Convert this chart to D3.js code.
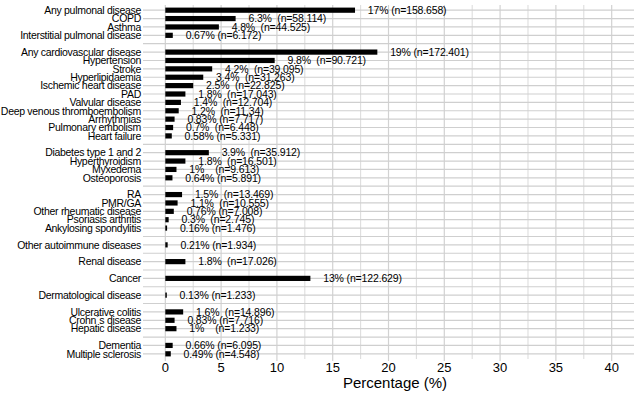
<!DOCTYPE html>
<html>
<head>
<meta charset="utf-8">
<script src="https://d3js.org/d3.v7.min.js"></script>
<style>
  body { margin: 0; background: #fff; }
  text { font-family: "Liberation Sans", Arial, sans-serif; }
</style>
</head>
<body>
<div id="vis"></div>
<script>
// rows of the chart, "" marks an empty spacer row between groups
var categories = [
  "Any pulmonal disease", "COPD", "Asthma", "Interstitial pulmonal disease", "",
  "Any cardiovascular disease", "Hypertension", "Stroke", "Hyperlipidaemia", "Ischemic heart disease",
  "PAD", "Valvular disease", "Deep venous thromboembolism", "Arrhythmias", "Pulmonary embolism", "Heart failure", "",
  "Diabetes type 1 and 2", "Hyperthyroidism", "Myxedema", "Osteoporosis", "",
  "RA", "PMR/GA", "Other rheumatic disease", "Psoriasis arthritis", "Ankylosing spondylitis", "",
  "Other autoimmune diseases", "",
  "Renal disease", "",
  "Cancer", "",
  "Dermatological disease", "",
  "Ulcerative colitis", "Crohn\u00b4s disease", "Hepatic disease", "",
  "Dementia", "Multiple sclerosis"
];
var percents = [
  17, 6.3, 4.8, 0.67, null,
  19, 9.8, 4.2, 3.4, 2.5, 1.8, 1.4, 1.2, 0.83, 0.7, 0.58, null,
  3.9, 1.8, 1, 0.64, null,
  1.5, 1.1, 0.76, 0.3, 0.16, null,
  0.21, null,
  1.8, null,
  13, null,
  0.13, null,
  1.6, 0.83, 1, null,
  0.66, 0.49
];
var counts = [
  "158.658", "58.114", "44.525", "6.172", null,
  "172.401", "90.721", "39.095", "31.263", "22.825", "17.043", "12.704", "11.34", "7.717", "6.448", "5.331", null,
  "35.912", "16.501", "9.613", "5.891", null,
  "13.469", "10.555", "7.008", "2.745", "1.476", null,
  "1.934", null,
  "17.026", null,
  "122.629", null,
  "1.233", null,
  "14.896", "7.716", "1.233", null,
  "6.095", "4.548"
];
var xTicks = [0, 5, 10, 15, 20, 25, 30, 35, 40];
var xMinor = [2.5, 7.5, 12.5, 17.5, 22.5, 27.5, 32.5, 37.5];

var width = 640, height = 395;
var m = { left: 143, right: 634, top: 6, bottom: 358 };

var svg = d3.select("#vis").append("svg")
  .attr("width", width)
  .attr("height", height);

var x = d3.scaleLinear().domain([-2, 42]).range([m.left, m.right]);
var y = d3.scaleBand()
  .domain(d3.range(categories.length))
  .range([m.top, m.bottom]);

var rows = categories.map(function(c, i) {
  return {i: i, name: c, pct: percents[i], n: counts[i]};
});
function yMid(d) { return y(d.i) + y.bandwidth() / 2; }

// vertical gridlines
svg.append("g").selectAll("line")
  .data(xMinor).enter().append("line")
  .attr("x1", function(d) { return x(d); })
  .attr("x2", function(d) { return x(d); })
  .attr("y1", m.top - 1).attr("y2", m.bottom + 1)
  .attr("stroke", "#dedede").attr("stroke-width", 1.1);
svg.append("g").selectAll("line")
  .data(xTicks).enter().append("line")
  .attr("x1", function(d) { return x(d); })
  .attr("x2", function(d) { return x(d); })
  .attr("y1", m.top - 1).attr("y2", m.bottom + 3)
  .attr("stroke", "#d2d2d2").attr("stroke-width", 1.2);

// horizontal gridlines (one per row, spacers included)
svg.append("g").selectAll("line")
  .data(rows).enter().append("line")
  .attr("x1", m.left).attr("x2", m.right)
  .attr("y1", yMid).attr("y2", yMid)
  .attr("stroke", "#cfcfcf").attr("stroke-width", 1.2);

var data = rows.filter(function(d) { return d.pct !== null; });

// bars
svg.append("g").selectAll("rect")
  .data(data).enter().append("rect")
  .attr("x", x(0))
  .attr("y", function(d) { return yMid(d) - 2.6; })
  .attr("width", function(d) { return Math.max(x(d.pct) - x(0), 1.5); })
  .attr("height", 5.2)
  .attr("fill", "#000");

// value labels
function pctLabel(p) {
  var s = p + "%";
  var gap = s.length === 3 ? 1 : 1 + Math.max(0, 5 - s.length);
  return s + " ".repeat(gap) + "(n=";
}
svg.append("g").selectAll("text")
  .data(data).enter().append("text")
  .attr("x", function(d) { return x(d.pct + 1.15); })
  .attr("y", yMid)
  .attr("dy", "0.36em")
  .attr("font-size", "10.5px")
  .attr("letter-spacing", "-0.15px")
  .attr("fill", "#000")
  .style("white-space", "pre")
  .text(function(d) { return pctLabel(d.pct) + d.n + ")"; });

// category labels
svg.append("g").selectAll("text")
  .data(rows.filter(function(d) { return d.name !== ""; })).enter().append("text")
  .attr("x", m.left - 2)
  .attr("y", yMid)
  .attr("dy", "0.36em")
  .attr("text-anchor", "end")
  .attr("font-size", "10.5px")
  .attr("letter-spacing", "-0.3px")
  .attr("fill", "#000")
  .text(function(d) { return d.name; });

// x tick labels
svg.append("g").selectAll("text")
  .data(xTicks).enter().append("text")
  .attr("x", function(d) { return x(d); })
  .attr("y", 372)
  .attr("text-anchor", "middle")
  .attr("font-size", "13px")
  .attr("fill", "#000")
  .text(function(d) { return d; });

svg.append("text")
  .attr("x", 395)
  .attr("y", 388)
  .attr("text-anchor", "middle")
  .attr("font-size", "15px")
  .attr("fill", "#000")
  .text("Percentage (%)");
</script>
</body>
</html>
